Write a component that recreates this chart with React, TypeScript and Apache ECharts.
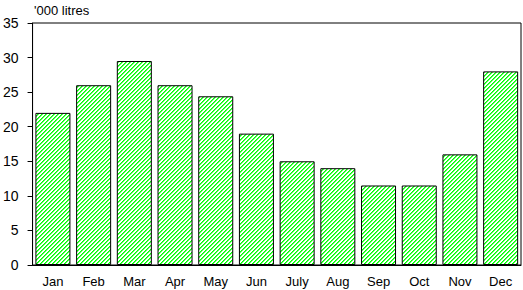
import React, { useEffect, useRef } from "react";
import * as echarts from "echarts";

const categories = ["Jan", "Feb", "Mar", "Apr", "May", "Jun", "July", "Aug", "Sep", "Oct", "Nov", "Dec"];
const values = [22, 26, 29.5, 26, 24.4, 19, 15, 14, 11.5, 11.5, 16, 28];
const yTicks = { min: 0, max: 35, interval: 5 };
const unitLabel = "'000 litres";

function makePattern(): string {
  const svg =
    '<svg xmlns="http://www.w3.org/2000/svg" width="4" height="4" shape-rendering="crispEdges">' +
    '<rect width="4" height="4" fill="#ffffff"/>' +
    '<rect x="0" y="3" width="1" height="1" fill="#00ff00"/>' +
    '<rect x="1" y="2" width="1" height="1" fill="#00ff00"/>' +
    '<rect x="2" y="1" width="1" height="1" fill="#00ff00"/>' +
    '<rect x="3" y="0" width="1" height="1" fill="#00ff00"/>' +
    '<rect x="1" y="3" width="1" height="1" fill="#55ff55"/>' +
    '<rect x="2" y="2" width="1" height="1" fill="#55ff55"/>' +
    '<rect x="3" y="1" width="1" height="1" fill="#55ff55"/>' +
    '<rect x="0" y="0" width="1" height="1" fill="#55ff55"/>' +
    "</svg>";
  return "data:image/svg+xml;charset=utf-8," + encodeURIComponent(svg);
}

export default function App() {
  const ref = useRef<HTMLDivElement>(null);
  useEffect(() => {
    if (!ref.current) return;
    const chart = echarts.init(ref.current, undefined, { renderer: "svg" });
    const font = "Liberation Sans, Arial, sans-serif";
    chart.setOption({
      animation: false,
      backgroundColor: "#ffffff",
      textStyle: { fontFamily: font },
      grid: {
        left: 31,
        top: 23,
        right: 2,
        bottom: 25,
        show: true,
        borderColor: "#000",
        borderWidth: 1,
        backgroundColor: "transparent",
      },
      graphic: [
        {
          type: "text",
          left: 34,
          top: 4,
          style: { text: unitLabel, fontSize: 13, fontFamily: font, fill: "#000" },
        },
      ],
      xAxis: {
        type: "category",
        data: categories,
        axisLine: { lineStyle: { color: "#000", width: 1 } },
        axisTick: { show: false },
        axisLabel: { color: "#000", fontSize: 13, fontFamily: font, margin: 10 },
      },
      yAxis: {
        type: "value",
        min: yTicks.min,
        max: yTicks.max,
        interval: yTicks.interval,
        axisLine: { show: true, lineStyle: { color: "#000", width: 1 } },
        axisTick: { show: true, length: 5, lineStyle: { color: "#000" } },
        axisLabel: { color: "#000", fontSize: 14, fontFamily: font, margin: 14 },
        splitLine: { show: false },
      },
      series: [
        {
          type: "bar",
          data: values,
          barCategoryGap: "14%",
          itemStyle: {
            color: { image: makePattern(), repeat: "repeat", imageWidth: 4, imageHeight: 4 },
            borderColor: "#000",
            borderWidth: 1,
          },
        },
      ],
    });
    return () => chart.dispose();
  }, []);
  return <div ref={ref} style={{ width: 523, height: 290, position: "absolute", left: 0, top: 0 }} />;
}
